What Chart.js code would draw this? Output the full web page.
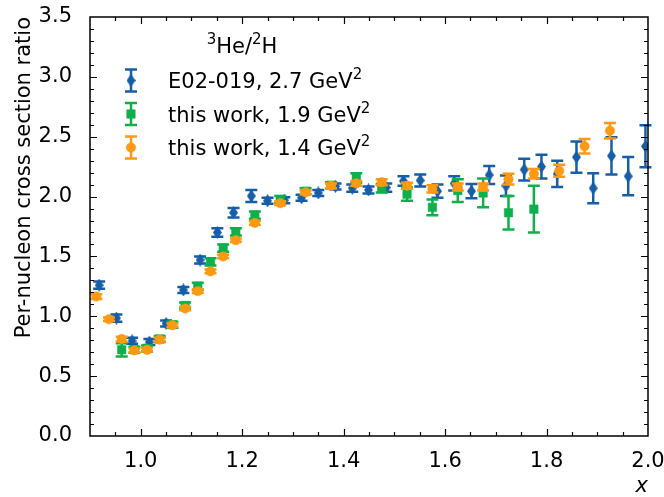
<!DOCTYPE html>
<html>
<head>
<meta charset="utf-8">
<script src="https://cdn.jsdelivr.net/npm/chart.js@4.4.1/dist/chart.umd.min.js"></script>
<style>
html, body { margin: 0; padding: 0; background: #fff; }
</style>
</head>
<body>
<canvas id="chart" width="664" height="497"></canvas>
<script>
// E02-019, 2.7 GeV^2
const e02X = [0.918, 0.952, 0.983, 1.017, 1.050, 1.084, 1.117, 1.151, 1.183, 1.218, 1.250,
    1.283, 1.317, 1.350, 1.384, 1.417, 1.449, 1.484, 1.518, 1.551, 1.585, 1.618, 1.652,
    1.687, 1.720, 1.756, 1.790, 1.821, 1.859, 1.892, 1.928, 1.961, 1.995];
const e02Y = [1.26, 0.985, 0.795, 0.785, 0.94, 1.22, 1.47, 1.70, 1.865, 2.005, 1.965,
    1.97, 1.99, 2.03, 2.085, 2.07, 2.055, 2.075, 2.13, 2.135, 2.045, 2.11, 2.045,
    2.18, 2.09, 2.225, 2.25, 2.19, 2.33, 2.07, 2.34, 2.17, 2.42];
const e02Err = [0.03, 0.03, 0.025, 0.025, 0.025, 0.025, 0.03, 0.035, 0.04, 0.05, 0.025,
    0.025, 0.025, 0.025, 0.025, 0.03, 0.03, 0.035, 0.04, 0.05, 0.055, 0.06, 0.06,
    0.075, 0.085, 0.09, 0.10, 0.11, 0.13, 0.125, 0.155, 0.16, 0.175];

// this work, 1.9 GeV^2
const q19X = [0.9625, 0.9875, 1.0125, 1.0375, 1.0625, 1.0875, 1.1125, 1.1375, 1.1625, 1.1875,
    1.225, 1.275, 1.325, 1.375, 1.425, 1.475, 1.525, 1.575, 1.625, 1.675, 1.725, 1.775];
const q19Y = [0.72, 0.72, 0.73, 0.81, 0.93, 1.09, 1.25, 1.455, 1.57, 1.705,
    1.845, 1.975, 2.045, 2.095, 2.155, 2.07, 2.02, 1.91, 2.05, 2.03, 1.865, 1.895];
const q19Err = [0.055, 0.025, 0.025, 0.025, 0.025, 0.025, 0.03, 0.03, 0.03, 0.03,
    0.03, 0.03, 0.025, 0.025, 0.04, 0.035, 0.055, 0.065, 0.095, 0.12, 0.14, 0.195];

// this work, 1.4 GeV^2
const q14X = [0.9125, 0.9375, 0.9625, 0.9875, 1.0125, 1.0375, 1.0625, 1.0875, 1.1125, 1.1375,
    1.1625, 1.1875, 1.225, 1.275, 1.325, 1.375, 1.425, 1.475, 1.525, 1.575, 1.625, 1.675,
    1.725, 1.775, 1.825, 1.875, 1.925];
const q14Y = [1.165, 0.975, 0.81, 0.715, 0.72, 0.805, 0.925, 1.065, 1.21, 1.375,
    1.50, 1.635, 1.78, 1.945, 2.035, 2.09, 2.11, 2.12, 2.09, 2.065, 2.08, 2.08,
    2.145, 2.19, 2.215, 2.42, 2.55];
const q14Err = [0.02, 0.015, 0.02, 0.015, 0.015, 0.015, 0.015, 0.015, 0.015, 0.015,
    0.015, 0.015, 0.015, 0.015, 0.015, 0.02, 0.02, 0.025, 0.025, 0.03, 0.03, 0.03,
    0.045, 0.04, 0.05, 0.06, 0.065];

const xTicks = [1.0, 1.2, 1.4, 1.6, 1.8, 2.0];
const yTicks = [0.0, 0.5, 1.0, 1.5, 2.0, 2.5, 3.0, 3.5];

const BLUE = '#165ea8', GREEN = '#0db14b', ORANGE = '#fd9912';
const FONT = 'DejaVu Sans';
const FS = 21;

// thin diamond marker like matplotlib 'd'
function diamond(w, h, color) {
    var c = document.createElement('canvas');
    c.width = w; c.height = h;
    var g = c.getContext('2d');
    g.fillStyle = color;
    g.beginPath();
    g.moveTo(w / 2, 0); g.lineTo(w, h / 2); g.lineTo(w / 2, h); g.lineTo(0, h / 2);
    g.closePath();
    g.fill();
    return c;
}
const diamondImg = diamond(9, 13, BLUE);

function pts(xs, ys) {
    return xs.map(function (x, i) { return { x: x, y: ys[i] }; });
}

function drawBar(ctx, px, top, bot, color) {
    ctx.strokeStyle = color;
    ctx.lineWidth = 2.5;
    ctx.beginPath();
    ctx.moveTo(px, top); ctx.lineTo(px, bot);
    ctx.moveTo(px - 6, top); ctx.lineTo(px + 6, top);
    ctx.moveTo(px - 6, bot); ctx.lineTo(px + 6, bot);
    ctx.stroke();
}

const errorBars = {
    id: 'errorBars',
    beforeDatasetDraw(chart, args) {
        var ds = chart.data.datasets[args.index];
        var xs = chart.scales.x, ys = chart.scales.y, ctx = chart.ctx;
        ctx.save();
        ds.data.forEach(function (p, i) {
            var px = xs.getPixelForValue(p.x);
            drawBar(ctx, px, ys.getPixelForValue(p.y + ds.errors[i]),
                ys.getPixelForValue(p.y - ds.errors[i]), ds.borderColor);
        });
        ctx.restore();
    }
};

// frame with inward ticks on all four sides
const frameTicks = {
    id: 'frameTicks',
    afterDraw(chart) {
        var ctx = chart.ctx, a = chart.chartArea, xs = chart.scales.x, ys = chart.scales.y;
        ctx.save();
        ctx.strokeStyle = '#000';
        ctx.lineWidth = 1.2;
        ctx.beginPath();
        for (var k = 19; k < 40; k++) {
            var px = Math.round(xs.getPixelForValue(k * 0.05)) + 0.5;
            var len = (k % 4 === 0) ? 7 : 4;
            ctx.moveTo(px, a.bottom); ctx.lineTo(px, a.bottom - len);
            ctx.moveTo(px, a.top); ctx.lineTo(px, a.top + len);
        }
        for (var j = 1; j < 35; j++) {
            var py = Math.round(ys.getPixelForValue(j * 0.1)) + 0.5;
            var l2 = (j % 5 === 0) ? 7 : 4;
            ctx.moveTo(a.left, py); ctx.lineTo(a.left + l2, py);
            ctx.moveTo(a.right, py); ctx.lineTo(a.right - l2, py);
        }
        ctx.stroke();
        ctx.lineWidth = 1.5;
        ctx.strokeRect(a.left, a.top, a.right - a.left, a.bottom - a.top);
        ctx.restore();
    }
};

// text runs with superscripts
function runs(ctx, parts, x, y, align) {
    var w = 0;
    parts.forEach(function (p) {
        ctx.font = (p.sup ? '15px ' : FS + 'px ') + FONT;
        p.w = ctx.measureText(p.t).width;
        w += p.w;
    });
    var cx = align === 'center' ? x - w / 2 : x;
    ctx.textAlign = 'left';
    ctx.textBaseline = 'alphabetic';
    parts.forEach(function (p) {
        ctx.font = (p.sup ? '15px ' : FS + 'px ') + FONT;
        ctx.fillText(p.t, cx, p.sup ? y - 9 : y);
        cx += p.w;
    });
}

const legendBox = {
    id: 'legendBox',
    afterDraw(chart) {
        var ctx = chart.ctx;
        ctx.save();
        ctx.fillStyle = '#000';
        runs(ctx, [{ t: '3', sup: true }, { t: 'He/' }, { t: '2', sup: true }, { t: 'H' }], 242, 52.5, 'center');
        var rows = [
            { c: BLUE, s: diamondImg, r: 6, label: 'E02-019, 2.7 GeV' },
            { c: GREEN, s: 'rect', r: 6, label: 'this work, 1.9 GeV' },
            { c: ORANGE, s: 'circle', r: 4.7, label: 'this work, 1.4 GeV' }
        ];
        rows.forEach(function (row, i) {
            var my = 80.5 + i * 33.5;
            drawBar(ctx, 131, my - 11, my + 11, row.c);
            ctx.fillStyle = row.c;
            ctx.strokeStyle = row.c;
            ctx.lineWidth = 0.5;
            Chart.helpers.drawPoint(ctx, { pointStyle: row.s, radius: row.r, rotation: 0, borderWidth: 0.5 }, 131, my);
            ctx.fillStyle = '#000';
            runs(ctx, [{ t: row.label }, { t: '2', sup: true }], 168, my + 7.5, 'left');
        });
        ctx.restore();
    }
};

new Chart(document.getElementById('chart'), {
    type: 'scatter',
    data: {
        datasets: [{
            label: 'E02-019, 2.7 GeV²',
            data: pts(e02X, e02Y),
            errors: e02Err,
            borderColor: BLUE,
            backgroundColor: BLUE,
            pointStyle: diamondImg,
            pointRadius: 6,
            order: 3
        }, {
            label: 'this work, 1.9 GeV²',
            data: pts(q19X, q19Y),
            errors: q19Err,
            borderColor: GREEN,
            backgroundColor: GREEN,
            pointStyle: 'rect',
            pointRadius: 6,
            pointBorderWidth: 0.5,
            order: 2
        }, {
            label: 'this work, 1.4 GeV²',
            data: pts(q14X, q14Y),
            errors: q14Err,
            borderColor: ORANGE,
            backgroundColor: ORANGE,
            pointStyle: 'circle',
            pointRadius: 4.7,
            pointBorderWidth: 0.5,
            order: 1
        }]
    },
    options: {
        responsive: false,
        animation: false,
        layout: { padding: { top: 17, right: 16, left: 0, bottom: 0 } },
        font: { family: FONT },
        plugins: { legend: { display: false }, tooltip: { enabled: false } },
        scales: {
            x: {
                type: 'linear', min: 0.9, max: 2.0,
                grid: { display: false }, border: { display: false },
                afterBuildTicks: function (s) { s.ticks = xTicks.map(function (v) { return { value: v }; }); },
                afterFit: function (s) {
                    s.height = 61;
                    s.paddingLeft = 0; s.paddingRight = 0;
                },
                ticks: {
                    padding: 5, color: '#000', maxRotation: 0,
                    font: { family: FONT, size: FS },
                    callback: function (v) { return v.toFixed(1); }
                },
                title: {
                    display: true, text: 'x', align: 'end', color: '#000',
                    font: { family: FONT, size: FS, style: 'italic' },
                    padding: { top: 0, bottom: -2 }
                }
            },
            y: {
                type: 'linear', min: 0, max: 3.5,
                grid: { display: false }, border: { display: false },
                afterBuildTicks: function (s) { s.ticks = yTicks.map(function (v) { return { value: v }; }); },
                afterFit: function (s) {
                    s.width = 90;
                    s.paddingTop = 0; s.paddingBottom = 0;
                },
                ticks: {
                    padding: 10, color: '#000',
                    font: { family: FONT, size: FS },
                    callback: function (v) { return v.toFixed(1); }
                },
                title: {
                    display: true, text: 'Per-nucleon cross section ratio', align: 'end', color: '#000',
                    font: { family: FONT, size: FS },
                    padding: { top: 12, bottom: 0 }
                }
            }
        }
    },
    plugins: [errorBars, frameTicks, legendBox]
});
</script>
</body>
</html>
